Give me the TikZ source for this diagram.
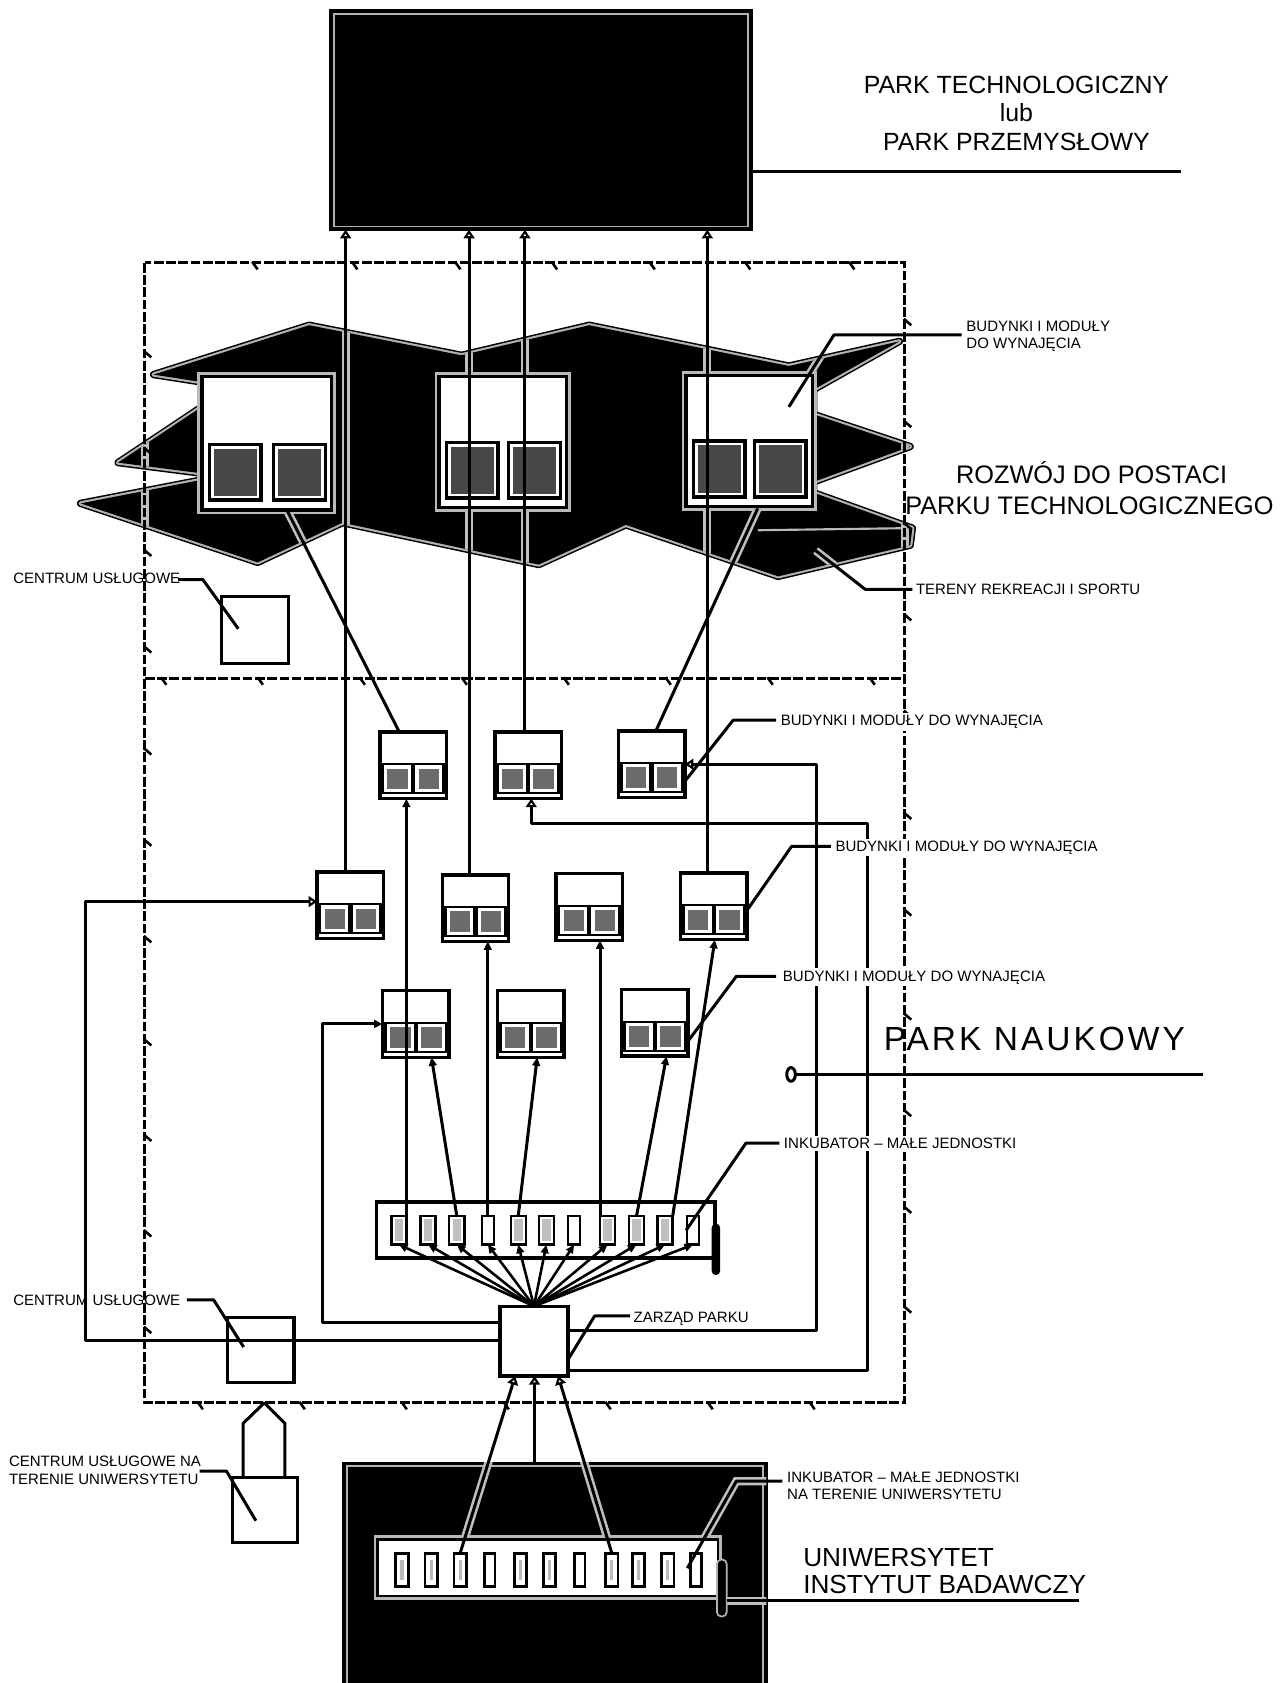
\documentclass[tikz,border=0pt]{standalone}
\usepackage{fontspec}
\setmainfont{Liberation Sans}
\newfontfamily\spacedfont[LetterSpace=9]{Liberation Sans}
\usetikzlibrary{arrows.meta,calc}
\pgfdeclarelayer{back}
\pgfdeclarelayer{mid}
\pgfsetlayers{back,mid,main}
\tikzset{
  ln/.style={line width=1.4pt, line join=round},
  halo/.style={draw=gray!50, line width=3.8pt},
  frm/.style={line width=1.4pt, dash pattern=on 4.5pt off 1.2pt},
  tick/.style={line width=1.2pt},
  wh/.style 2 args={minimum width=#1*0.5pt, minimum height=#2*0.5pt, inner sep=0pt, outer sep=0pt},
  dark/.style={draw=black, fill=black, line width=1.2pt},
  sbx/.style={draw=black, fill=white, line width=1.6pt, wh={62}{62}},
  wbx/.style={draw=black, fill=white, line width=1.5pt},
  slot/.style={draw=black, fill=white, line width=1.1pt, inner sep=0pt, outer sep=0pt, minimum height=13.25pt},
  uslot/.style={draw=black, fill=white, line width=1.3pt, inner sep=0pt, outer sep=0pt, minimum height=15.5pt},
  lbs/.style={font=\fontsize{7}{8}\selectfont, anchor=base west, inner sep=0pt},
  lbsw/.style={lbs, fill=white, inner sep=1pt},
  lbL/.style={font=\fontsize{11.6}{14}\selectfont, anchor=base, inner sep=0pt},
  lbU/.style={font=\fontsize{12.2}{14}\selectfont, anchor=base west, inner sep=0pt},
  oa/.style={-{Triangle[open, length=4pt, width=5pt]}},
  fa/.style={-{Triangle[length=4pt, width=3.6pt]}},
}
\newcommand\smallbldg[3]{%
  \node[sbx] (#1) at (#2,#3) {};
  \fill[black] ($(#1.west)+(0,-2)$) rectangle ($(#1.south east)+(0,-4)$);
  \foreach \dx in {-27,2} {
    \fill[white] ($(#1.center)+(\dx,0)$) rectangle ++(25,25);
    \fill[black!58] ($(#1.center)+(\dx+3,3)$) rectangle ++(19,19);
  }
  \draw[line width=1.6pt] (#1.south west) rectangle (#1.north east);
}
\newcommand\bigbldg[5]{%
  \draw[gray!55, line width=4pt] (#2,#3) rectangle (#4,#5);
  \node[draw, fill=white, line width=1.6pt, inner sep=0pt, minimum width={(#4-#2)*0.5pt}, minimum height={(#5-#3)*0.5pt}] (#1) at ({(#2+#4)/2},{(#3+#5)/2}) {};
  \draw[line width=1.6pt, fill=white] (#2+7,#5-61) rectangle (#2+55,#5-9);
  \fill[black!72] (#2+11,#5-57) rectangle (#2+51,#5-13);
  \draw[line width=1.6pt, fill=white] (#4-54,#5-61) rectangle (#4-6,#5-9);
  \fill[black!72] (#4-50,#5-57) rectangle (#4-10,#5-13);
}
\def\cloudpath{(143,349) -- (288,303) -- (430,331) -- (549,303) -- (735,341) -- (838,318) -- (758,363) -- (758,386) -- (848,416) -- (758,449) -- (758,459) -- (850,492) -- (848,508) -- (725,537) -- (583,489) -- (502,526) -- (319,487) -- (240,524) -- (75,469) -- (188,447) -- (188,441) -- (110,431) -- (188,379) -- (188,356) -- cycle}
\begin{document}
\begin{tikzpicture}[x=0.5pt, y=-0.5pt]
\useasboundingbox (0,0) rectangle (1193,1568);
\begin{pgfonlayer}{back}
\fill[white] (0,0) rectangle (1193,1568);
\node[dark, wh={394}{220}] (uni) at (517,1473) {};
\draw[gray!60, line width=0.8pt] ($(uni.north west)+(3,3)$) rectangle ($(uni.south east)+(-3,-3)$);
\node[dark, wh={392}{204}] (tp) at (504,112) {};
\draw[gray!60, line width=0.8pt] ($(tp.north west)+(3,3)$) rectangle ($(tp.south east)+(-3,-3)$);
\draw[black, line width=3.4pt, line join=round] \cloudpath;
\draw[gray!60, line width=2pt, line join=round] \cloudpath;
\fill[black] \cloudpath;
\end{pgfonlayer}

% frame
\draw[frm] (135,245) rectangle (843,1307);
\draw[frm] (135,632) -- (843,632);
\foreach \x in {237,330,426,516,607,696,793} \draw[tick] (\x-2,244) -- (\x+3,251);
\foreach \x in {152,242,337,432,527,622,717,812} \draw[tick] (\x-2,631) -- (\x+3,638);
\foreach \x in {186,281,376,471,566,661,756} \draw[tick] (\x-2,1306) -- (\x+3,1313);
\foreach \y in {330,420,515,605,700,785,875,971,1060,1149,1239} \draw[tick] (134,\y-3) -- (141,\y+3);
\foreach \y in {300,395,490,575,665,760,850,947,1037,1127,1220} \draw[tick] (842,\y-3) -- (849,\y+3);

% small buildings
\smallbldg{r1a}{385}{713}
\smallbldg{r1b}{492}{713}
\smallbldg{r1c}{607}{712}
\smallbldg{r2a}{326.5}{843.5}
\smallbldg{r2b}{443}{846}
\smallbldg{r2c}{549}{845}
\smallbldg{r2d}{665}{844.5}
\smallbldg{r3a}{387.5}{954}
\smallbldg{r3b}{494.5}{954}
\smallbldg{r3c}{610}{953}

% service centres
\node[wbx, wh={62}{62}] (c1) at (237.5,586.8) {};
\node[wbx, wh={62}{61}] (c2) at (243,1257.7) {};
\node[wbx, wh={61}{61}] (c3) at (246.9,1406.8) {};
\draw[ln] (226.6,1376.3) -- (226.6,1326) -- (246.2,1307) -- (265.4,1326) -- (265.4,1376.3);

% incubator
\node[wbx, line width=1.6pt, wh={315}{52}] (inc) at (508.5,1146) {};
\fill[black, rounded corners=2pt] (663,1140) rectangle (671,1188);
\foreach \i/\x/\w/\g in {1/371.6/14/1, 2/398.9/14/1, 3/425.6/14/1, 4/454.5/11/0, 5/482.8/14/1, 6/509/14/1, 7/534.9/11/0, 8/566/14/1, 9/593/14/1, 10/619.7/14/1, 11/645.7/11/0} {
  \node[slot, minimum width=\w*0.5pt] (s\i) at (\x,1146.3) {};
  \ifnum\g=1 \fill[gray!50] (\x-4,1136) rectangle (\x+4,1156.5); \fi
}
\node[wbx, line width=1.6pt, wh={63}{65}] (zarz) at (497.5,1249.5) {};

% university incubator
\draw[gray!55, line width=3.5pt] (352,1434) rectangle (669,1487);
\node[wbx, line width=1.3pt, wh={317}{53}] (uinc) at (510.5,1460.5) {};
\foreach \i/\x/\w/\g in {1/374.5/11.5/1, 2/401.7/11.5/1, 3/428.7/11.5/1, 4/456.4/9.5/0, 5/484.8/11.5/1, 6/511.8/11.5/1, 7/540.2/9.5/0, 8/570/11.5/1, 9/595/11.5/1, 10/622.1/11.5/1, 11/648.4/10/0} {
  \node[uslot, minimum width=\w*0.5pt] (us\i) at (\x,1462.5) {};
  \ifnum\g=1 \fill[gray!55] (\x-1.5,1453) rectangle (\x+1.5,1472); \fi
}
\node[draw=gray!60, fill=black, line width=0.8pt, rounded corners=2pt, wh={9}{53}] (utab) at (672.5,1479.5) {};

% buildings in the technology park area
\bigbldg{b1}{188}{351}{309}{475}
\bigbldg{b2}{409}{351}{528}{473}
\bigbldg{b3}{639}{350}{757}{472}

% connector anchors
\coordinate (a1) at ($(r2a.north)+(-4.5,0)$);
\coordinate (a2) at ($(r2b.north)+(-6,0)$);
\coordinate (a3) at ($(r1b.north)+(-3,0)$);
\coordinate (a4) at ($(r2d.north)+(-6,0)$);
\coordinate (ter) at (760,513);

% halos
\begin{pgfonlayer}{mid}
\begin{scope}
\clip \cloudpath;
\foreach \p in {a1,a2,a3,a4} \draw[halo] (\p) -- (\p |- tp.south);
\draw[halo] ($(b1.south)+(19.5,0)$) -- ($(r1a.north)+(-13,0)$);
\draw[halo] ($(b3.south)+(8,0)$) -- ($(r1c.north)+(4,0)$);
\draw[halo] ($(b3.center)+(37,-32)$) -- (777,312) -- (896,312);
\draw[halo] (ter) -- (806,549);
\draw[halo] (135,245) -- (135,632);
\draw[halo] (843,245) -- (843,632);
\draw[gray!55, line width=1pt] (706,494) -- (850,492);
\end{scope}
\begin{scope}
\clip (uni.south west) rectangle (uni.north east);
\draw[halo] (us3.north) -- ($(zarz.south)+(-17.5,0)$);
\draw[halo] (us8.north) -- ($(zarz.south)+(22.5,0)$);
\draw[halo] ($(us11.west)+(-3,-1.5)$) -- (686,1380) -- (729,1380);
\draw[halo] (utab.east) ++(0,12) -- (1005,1491.5);
\end{scope}
\end{pgfonlayer}

% connectors to the technology park
\foreach \p in {a1,a2,a3,a4} \draw[ln, oa] (\p) -- (\p |- tp.south);
\draw[ln] ($(b1.south)+(19.5,0)$) -- ($(r1a.north)+(-13,0)$);
\draw[ln] ($(b3.south)+(8,0)$) -- ($(r1c.north)+(4,0)$);

% incubator to buildings
\draw[ln, fa] (s1.north east) -- (s1.north east |- r1a.south);
\draw[ln, fa] (s3.north) -- ($(r3a.south)+(14.5,0)$);
\draw[ln, fa] (s4.north) -- (s4.north |- r2b.south);
\draw[ln, fa] (s5.north) -- ($(r3b.south)+(6,0)$);
\draw[ln, fa] (s8.north west) -- (s8.north west |- r2c.south);
\draw[ln, fa] (s9.north) -- ($(r3c.south)+(11,0)$);
\draw[ln, fa] (s10.north east) -- ($(r2d.south)+(1,0)$);

% park management
\foreach \i in {1,...,11} \draw[line width=1.2pt, fa] (zarz.north) -- (s\i.south);
\draw[ln, fa] ($(zarz.west)+(0,-17.5)$) -| (300,954) -- (r3a.west);
\draw[ln, oa] ($(zarz.west)+(0,-1)$) -| (80,840) -- ($(r2a.west)+(0,-3.5)$);
\draw[ln, oa] ($(zarz.east)+(0,-9.5)$) -| (761,712) -- (r1c.east);
\draw[ln, oa] ($(zarz.east)+(0,27.5)$) -| (808,767) -| ($(r1b.south)+(3,0)$);

% university to management
\draw[ln, oa] (us3.north) -- ($(zarz.south)+(-17.5,0)$);
\draw[ln, oa] ($(uni.north)+(-19,0)$) -- ($(zarz.south)+(0.5,0)$);
\draw[ln, oa] (us8.north) -- ($(zarz.south)+(22.5,0)$);

% leader lines
\coordinate (lPT) at (1100,160);
\coordinate (lTop) at (896,312);
\coordinate (lTer) at (850,549);
\coordinate (lC1) at (166,540);
\coordinate (lB1) at (723,671);
\coordinate (lB2) at (774,788.6);
\coordinate (lB3) at (723,909.6);
\coordinate (lInk) at (726,1065);
\coordinate (lZ) at (587,1226);
\coordinate (lC2) at (174,1211);
\coordinate (lC3) at (186,1370.6);
\coordinate (lUI) at (729,1380);
\coordinate (lUni) at (1005,1491.5);
\draw[ln] ($(tp.south east)+(0,-54)$) -- (lPT);
\draw[ln] ($(b3.center)+(37,-32)$) -- (777,312) -- (lTop);
\draw[ln] (ter) -- (806,549) -- (lTer);
\draw[ln] (lC1) -- (189,540) -- ($(c1.center)+(-15.5,-1)$);
\draw[ln] (lB1) -- (683,671) -- ($(r1c.east)+(0,16)$);
\draw[ln] (lB2) -- (737.5,788.6) -- ($(r2d.east)+(0,3.5)$);
\draw[ln] (lB3) -- (686,909.6) -- ($(r3c.east)+(0,17)$);
\draw[ln] (lInk) -- (695,1065) -- ($(s11.west)+(-1,0)$);
\draw[ln] (lZ) -- (554,1226) -- ($(zarz.east)+(0,17.5)$);
\draw[ln] (lC2) -- (199,1211) -- ($(c2.center)+(-16,-2.7)$);
\draw[ln] (lC3) -- (211,1370.6) -- ($(c3.center)+(-8.5,10)$);
\draw[ln] ($(us11.west)+(-3,-1.5)$) -- (686,1380) -- (lUI);
\draw[ln] (utab.east) ++(0,12) -- (lUni);
\draw[ln] (737,1001) ellipse [x radius=2pt, y radius=3.2pt];
\coordinate (lPN) at (1121,1001);
\draw[ln] (741,1001) -- (lPN);

% texts
\node[lbL] (tPT1) at (947,87) {PARK TECHNOLOGICZNY};
\node[lbL] (tPT2) at (947,113) {lub};
\node[lbL] (tPT3) at (947,140) {PARK PRZEMYSŁOWY};
\node[lbL, font=\fontsize{11.8}{14}\selectfont] (tRZ1) at (1017,450) {ROZWÓJ DO POSTACI};
\node[lbL, font=\fontsize{11.8}{14}\selectfont] (tRZ2) at (1015,479) {PARKU TECHNOLOGICZNEGO};
\node[lbU] (tU1) at (748,1459) {UNIWERSYTET};
\node[lbU] (tU2) at (748,1485) {INSTYTUT BADAWCZY};
\node[anchor=base west, inner sep=0pt, font=\spacedfont\fontsize{15.6}{18}\selectfont] (tPN) at (823,979) {PARK NAUKOWY};
\node[lbs] (tBT1) at (900,309) {BUDYNKI I MODUŁY};
\node[lbs] (tBT2) at (900,325) {DO WYNAJĘCIA};
\node[lbs] (tTer) at (853,554) {TERENY REKREACJI I SPORTU};
\node[lbs] (tC1) at (12,544) {CENTRUM USŁUGOWE};
\node[lbsw] (tB1) at (725,676) {BUDYNKI I MODUŁY DO WYNAJĘCIA};
\node[lbsw] (tB2) at (776,793) {BUDYNKI I MODUŁY DO WYNAJĘCIA};
\node[lbsw] (tB3) at (727,914) {BUDYNKI I MODUŁY DO WYNAJĘCIA};
\node[lbsw] (tInk) at (728,1070) {INKUBATOR – MAŁE JEDNOSTKI};
\node[lbs] (tZ) at (590,1232) {ZARZĄD PARKU};
\node[lbs] (tC2) at (12,1216) {CENTRUM USŁUGOWE};
\node[lbs] (tC3a) at (8,1366) {CENTRUM USŁUGOWE NA};
\node[lbs] (tC3b) at (8,1383) {TERENIE UNIWERSYTETU};
\node[lbs] (tUI1) at (733,1381) {INKUBATOR – MAŁE JEDNOSTKI};
\node[lbs] (tUI2) at (733,1397) {NA TERENIE UNIWERSYTETU};
\end{tikzpicture}
\end{document}
